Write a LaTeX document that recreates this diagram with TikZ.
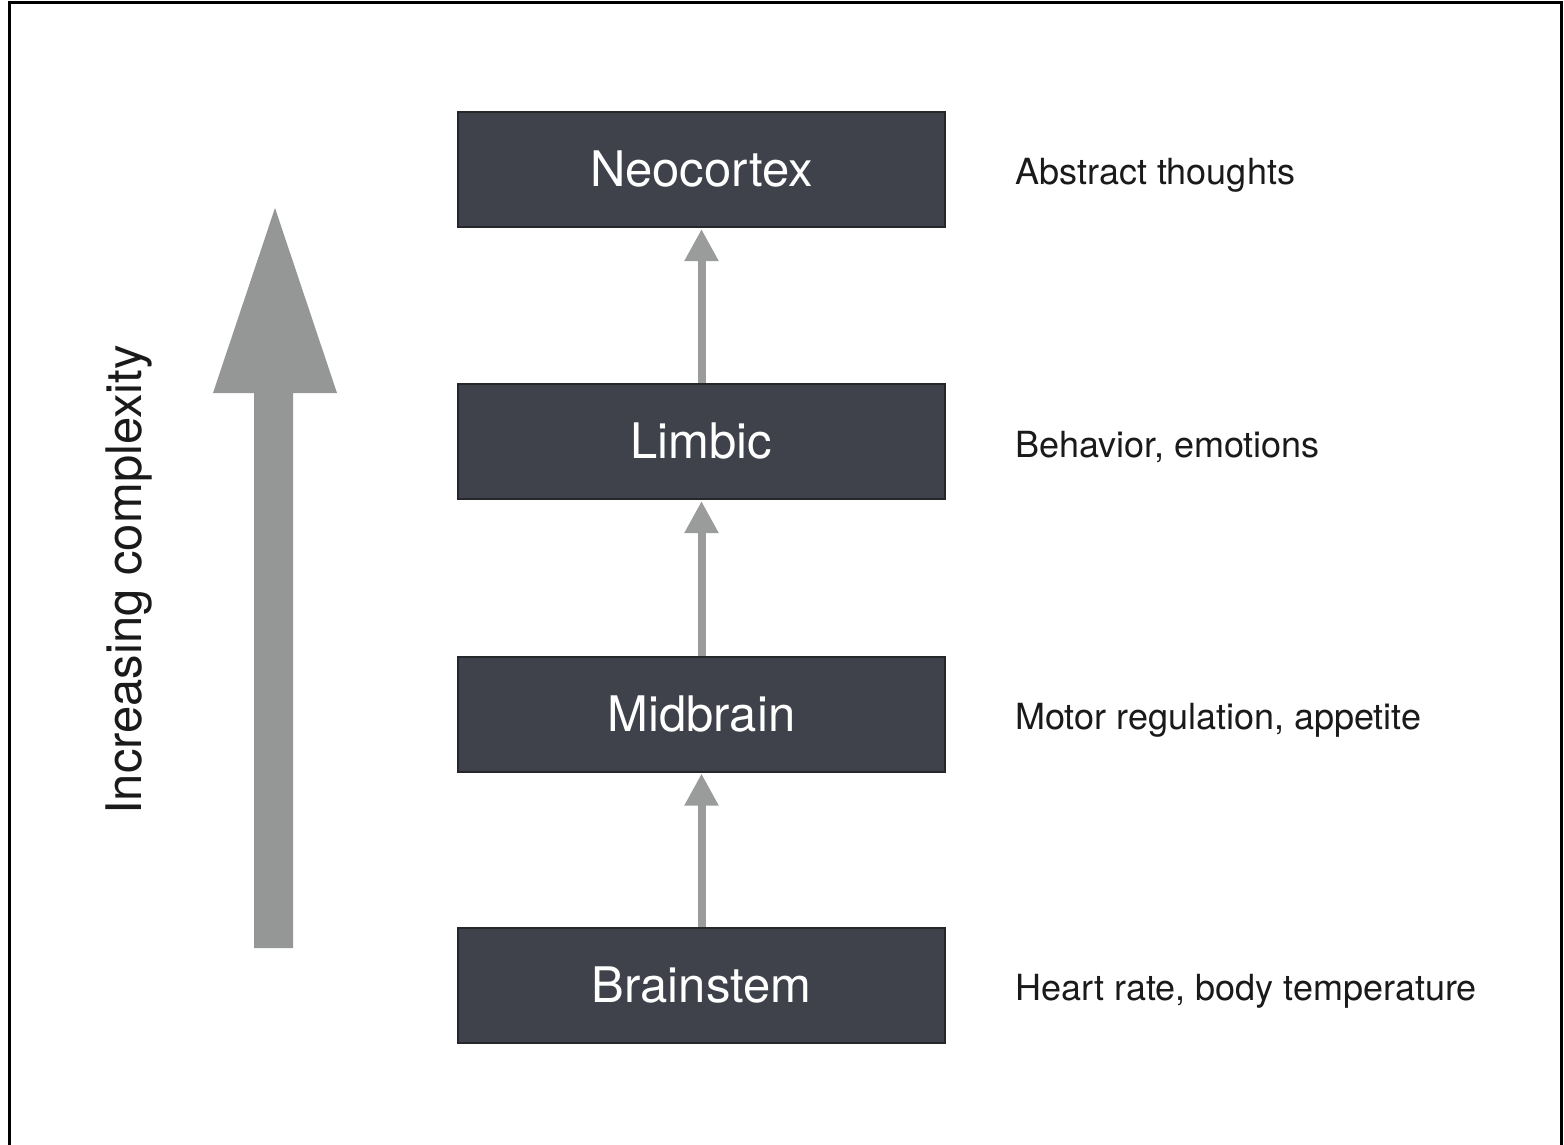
\documentclass[tikz,border=0pt]{standalone}
\usepackage{fontspec}
\setmainfont{TeX Gyre Heros}
\usetikzlibrary{arrows.meta}
\definecolor{boxfill}{HTML}{3F424A}
\definecolor{boxline}{HTML}{25272B}
\definecolor{arrowgray}{HTML}{9A9C9C}
\definecolor{bigarrow}{HTML}{949796}
\definecolor{labeltext}{HTML}{1A1A1A}
\begin{document}
\begin{tikzpicture}[x=1pt,y=-1pt,
  layer/.style={draw=boxline, line width=2pt, fill=boxfill, text=white,
    minimum width=487pt, minimum height=115pt, inner sep=0pt,
    font=\fontsize{49}{58}\selectfont},
  role/.style={anchor=base west, inner sep=0pt, text=labeltext,
    font=\fontsize{36}{44}\selectfont},
  link/.style={draw=arrowgray, line width=8pt,
    -{Triangle[length=32pt,width=32pt]}, shorten >=1pt}
]
\useasboundingbox (0,0) rectangle (1564,1145);
\fill[white] (0,0) rectangle (1564,1145);

% outer frame (open at the bottom)
\draw[line width=3pt, black] (9,1145) -- (9,3) -- (1561,3) -- (1561,1145);

% brain layers
\node[layer] (neo)  at (701.5,169.5) {Neocortex};
\node[layer] (limb) at (701.5,441.5) {Limbic};
\node[layer] (mid)  at (701.5,714)   {Midbrain};
\node[layer] (stem) at (701.5,985)   {Brainstem};

% connectors between layers
\draw[link] (stem.north) -- (mid.south);
\draw[link] (mid.north) -- (limb.south);
\draw[link] (limb.north) -- (neo.south);

% functions of each layer
\node[role] (f1) at (1015,185) {Abstract thoughts};
\node[role] (f2) at (1015,457) {Behavior, emotions};
\node[role] (f3) at (1015,729.5) {Motor regulation, appetite};
\node[role] (f4) at (1015,1000.5) {Heart rate, body temperature};

% large complexity arrow
\fill[bigarrow] (254,948) -- (254,393) -- (213,393) -- (275,208)
  -- (337,393) -- (293,393) -- (293,948) -- cycle;
\node[rotate=90, anchor=base, inner sep=0pt, text=labeltext,
  font=\fontsize{49}{58}\selectfont] (axis) at (141,580) {Increasing complexity};
\end{tikzpicture}
\end{document}
